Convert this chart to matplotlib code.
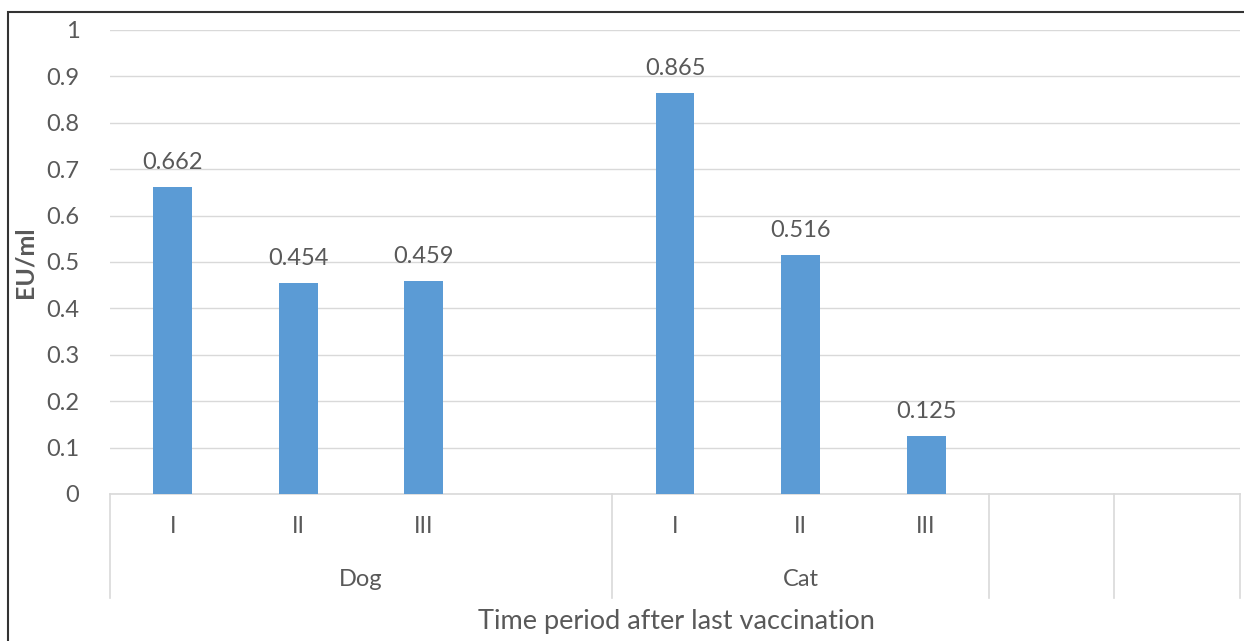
import matplotlib.pyplot as plt
from matplotlib.patches import Rectangle
import numpy as np

# values
periods = ['I', 'II', 'III']
groups = ['Dog', 'Cat', '', '']
group_sizes = [4, 3, 1, 1]  # slots per group on the category axis
dog_values = [0.662, 0.454, 0.459]
cat_values = [0.865, 0.516, 0.125]

plt.rcParams['font.family'] = ['Lato', 'DejaVu Sans']
txt = '#595959'
grid_c = '#D9D9D9'
bar_c = '#5B9BD5'

fig = plt.figure(figsize=(12.44, 6.41), dpi=100)
W, H = 1244, 641
ax = fig.add_axes([110 / W, (H - 494) / H, 1130 / W, (494 - 30) / H])

n_slots = sum(group_sizes)
starts = np.cumsum([0] + group_sizes[:-1])
dog_x = starts[0] + np.arange(len(dog_values))
cat_x = starts[1] + np.arange(len(cat_values))

for xs, vals in [(dog_x, dog_values), (cat_x, cat_values)]:
    bars = ax.bar(xs, vals, width=0.31, color=bar_c, zorder=3)
    for b, v in zip(bars, vals):
        ax.annotate(f'{v:.3f}', (b.get_x() + b.get_width() / 2, v),
                    xytext=(0, 10), textcoords='offset points',
                    ha='center', va='bottom', fontsize=17, color=txt)

ax.set_xlim(-0.5, n_slots - 0.5)
ax.set_ylim(0, 1)
ax.set_yticks(np.arange(0, 1.01, 0.1))
ax.set_yticklabels(['0'] + [f'{v:.1f}' for v in np.arange(0.1, 0.95, 0.1)] + ['1'])
ax.tick_params(axis='y', length=0, pad=22, labelsize=17, labelcolor=txt)
ax.set_xticks([])
ax.grid(axis='y', color=grid_c, linewidth=1, zorder=0)
for s in ['top', 'right', 'left']:
    ax.spines[s].set_visible(False)
ax.spines['bottom'].set_color(grid_c)
ax.spines['bottom'].set_linewidth(1.2)

trans = ax.get_xaxis_transform()
# inner category labels
for xs in [dog_x, cat_x]:
    for x, p in zip(xs, periods):
        ax.text(x, -0.071, p, transform=trans, ha='center', va='center',
                fontsize=17, color=txt)
# group labels and separators
bounds = np.concatenate([starts, [n_slots]]) - 0.5
for b in bounds:
    ax.plot([b, b], [0, -0.224], transform=trans, color=grid_c,
            linewidth=1.2, clip_on=False)
for st, sz, g in zip(starts, group_sizes, groups):
    ax.text(st + (sz - 1) / 2, -0.185, g, transform=trans, ha='center',
            va='center', fontsize=17, color=txt)

fig.text(676 / W, 1 - 621 / H, 'Time period after last vaccination',
         ha='center', va='center', fontsize=19.5, color=txt)
fig.text(25 / W, 1 - 262 / H, 'EU/ml', rotation=90, ha='center',
         va='center', fontsize=18, fontweight='bold', color=txt)

fig.patches.append(Rectangle((8 / W, -0.1), 1.2, (H - 12) / H + 0.1,
                             transform=fig.transFigure, fill=False,
                             edgecolor='#333333', linewidth=1.5))

fig.savefig('out.png', dpi=100)
